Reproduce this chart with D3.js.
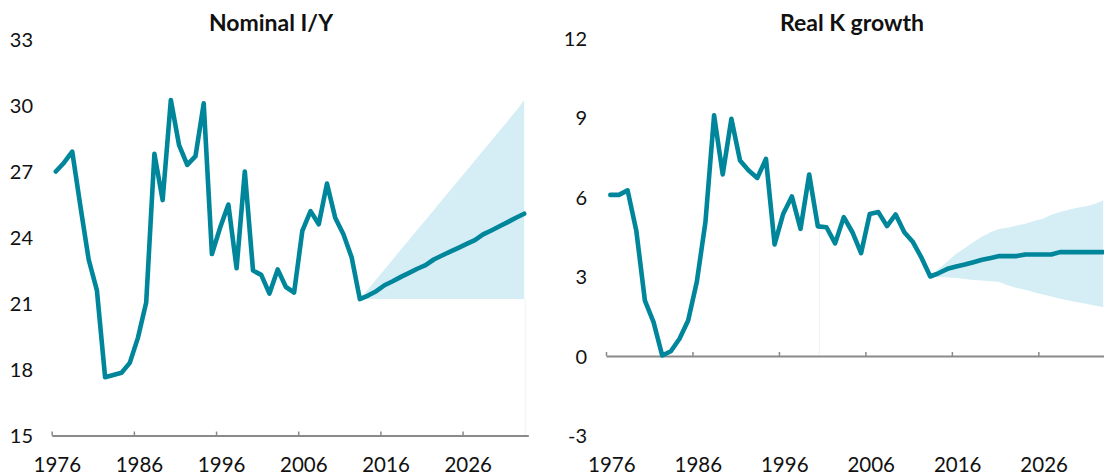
<!DOCTYPE html>
<html>
<head>
<meta charset="utf-8">
<script src="https://cdn.jsdelivr.net/npm/d3@7"></script>
<style>
  html, body { margin: 0; padding: 0; background: #fff; }
  svg { display: block; }
  text { font-family: Lato, "Open Sans", sans-serif; fill: #111; }
</style>
</head>
<body>
<svg id="chart" width="1104" height="475"></svg>
<script>
// ---------- data ----------
const years = d3.range(1976, 2034); // 1976..2033 categories
const tickYears = [1976, 1986, 1996, 2006, 2016, 2026];

const nominalIY = [
  27.0, 27.4, 27.9, 25.4, 23.0, 21.6, 17.65, 17.75, 17.85, 18.3,
  19.45, 21.05, 27.8, 25.7, 30.25, 28.2, 27.3, 27.7, 30.1, 23.25,
  24.45, 25.5, 22.6, 27.0, 22.5, 22.3, 21.45, 22.55, 21.75, 21.5,
  24.3, 25.2, 24.6, 26.45, 24.9, 24.15, 23.1, 21.2, 21.36, 21.56,
  21.83, 22.01, 22.21, 22.39, 22.58, 22.74, 23.0, 23.18, 23.36, 23.53,
  23.71, 23.88, 24.14, 24.32, 24.51, 24.7, 24.9, 25.08
];
const bandYearsIY = d3.range(2013, 2034);
const nominalIYLow = [
  21.2, 21.2, 21.2, 21.2, 21.2, 21.2, 21.2, 21.2, 21.2, 21.2, 21.2,
  21.2, 21.2, 21.2, 21.2, 21.2, 21.2, 21.2, 21.2, 21.2, 21.2
];
const nominalIYHigh = [
  21.2, 21.65, 22.1, 22.55, 23.0, 23.45, 23.9, 24.35, 24.8, 25.25, 25.7,
  26.15, 26.6, 27.05, 27.5, 27.95, 28.4, 28.85, 29.3, 29.75, 30.25
];

const realKGrowth = [
  6.08, 6.08, 6.25, 4.74, 2.09, 1.28, 0.02, 0.18, 0.65, 1.34,
  2.79, 5.05, 9.08, 6.85, 8.95, 7.38, 7.0, 6.72, 7.44, 4.21,
  5.37, 6.02, 4.8, 6.85, 4.89, 4.86, 4.25, 5.24, 4.67, 3.88,
  5.36, 5.43, 4.9, 5.34, 4.67, 4.3, 3.7, 3.0, 3.13, 3.29,
  3.38, 3.45, 3.54, 3.63, 3.7, 3.77, 3.77, 3.77, 3.83, 3.83,
  3.83, 3.83, 3.92, 3.92, 3.92, 3.92, 3.92, 3.92
];
const bandYearsK = d3.range(2013, 2034);
const realKLow = [
  3.0, 2.97, 2.96, 2.94, 2.91, 2.87, 2.85, 2.82, 2.79, 2.66, 2.57,
  2.5, 2.41, 2.32, 2.25, 2.16, 2.09, 2.03, 1.97, 1.91, 1.84
];
const realKHigh = [
  3.0, 3.29, 3.58, 3.86, 4.08, 4.3, 4.51, 4.67, 4.8, 4.84, 4.92,
  4.99, 5.09, 5.18, 5.33, 5.43, 5.52, 5.59, 5.65, 5.74, 5.87
];

const yTicksIY = [15, 18, 21, 24, 27, 30, 33];
const yTicksK = [-3, 0, 3, 6, 9, 12];

// ---------- styles ----------
const LINE = "#00869b";
const BAND = "#d5eef5";
const AXIS = "#8a8a8a";
const fmt = v => String(v); // plain hyphen-minus like the original

const svg = d3.select("#chart");

function panel(opt) {
  const g = svg.append("g");
  const x = d3.scaleLinear().domain([1976, 2034]).range(opt.xRange);
  const y = d3.scaleLinear().domain(opt.yDomain).range(opt.yRange);
  const cx = yr => x(yr + 0.5);

  // faint artifact line
  if (opt.faint) {
    g.append("line")
      .attr("x1", cx(opt.faint.year) + opt.faint.dx).attr("x2", cx(opt.faint.year) + opt.faint.dx)
      .attr("y1", y(opt.faint.top)).attr("y2", y(opt.axisAt))
      .attr("stroke", "#eef3f5").attr("stroke-width", 1);
  }

  // band
  const bandData = opt.bandYears.map((yr, i) => ({yr, lo: opt.low[i], hi: opt.high[i]}));
  g.append("path")
    .datum(bandData)
    .attr("fill", BAND)
    .attr("d", d3.area().x(d => cx(d.yr)).y0(d => y(d.lo)).y1(d => y(d.hi)));

  // x axis
  const xAxis = d3.axisBottom(x)
    .tickValues(tickYears)
    .tickSizeInner(-4)
    .tickSizeOuter(0)
    .tickPadding(17)
    .tickFormat(fmt);
  const ax = g.append("g")
    .attr("transform", `translate(0,${y(opt.axisAt)})`)
    .call(xAxis);
  ax.select(".domain").attr("stroke", AXIS).attr("stroke-width", 2);
  ax.selectAll(".tick line").attr("stroke", AXIS).attr("stroke-width", 1.5);
  ax.selectAll(".tick text")
    .attr("x", (x(1977) - x(1976)) / 2 + 1)
    .attr("font-size", 20.5)
    .attr("fill", "#111")
    .style("font-family", "Lato, 'Open Sans', sans-serif");
  ax.selectAll(".tick text").attr("y", opt.xLabelY - y(opt.axisAt)).attr("dy", 0);

  // y axis labels
  const yAxis = d3.axisLeft(y).tickValues(opt.yTicks).tickSize(0).tickPadding(0).tickFormat(fmt);
  const ay = g.append("g").attr("transform", `translate(${opt.yLabelX},0)`).call(yAxis);
  ay.select(".domain").remove();
  ay.selectAll(".tick text")
    .attr("font-size", 20)
    .attr("fill", "#111")
    .attr("dy", "0.35em")
    .style("font-family", "Lato, 'Open Sans', sans-serif");

  // line
  g.append("path")
    .datum(opt.values.map((v, i) => ({yr: years[i], v})))
    .attr("fill", "none")
    .attr("stroke", LINE)
    .attr("stroke-width", 4.6)
    .attr("stroke-linejoin", "round")
    .attr("stroke-linecap", "round")
    .attr("d", d3.line().x(d => cx(d.yr)).y(d => y(d.v)));

  // title
  g.append("text")
    .attr("x", opt.titleX).attr("y", 31)
    .attr("text-anchor", "middle")
    .attr("font-size", 23)
    .attr("font-weight", 700)
    .text(opt.title);
}

panel({
  title: "Nominal I/Y", titleX: 271,
  xRange: [51.7, 528.3], yDomain: [15, 33], yRange: [435.5, 39.5],
  axisAt: 15, yTicks: yTicksIY, yLabelX: 33, xLabelY: 472,
  values: nominalIY, bandYears: bandYearsIY, low: nominalIYLow, high: nominalIYHigh,
  faint: {year: 2033, dx: 1, top: 21.2}
});

panel({
  title: "Real K growth", titleX: 852,
  xRange: [606, 1107.5], yDomain: [-3, 12], yRange: [435.5, 38],
  axisAt: 0, yTicks: yTicksK, yLabelX: 587, xLabelY: 472,
  values: realKGrowth, bandYears: bandYearsK, low: realKLow, high: realKHigh,
  faint: {year: 2000, dx: 1.5, top: 6.0}
});
</script>
</body>
</html>
